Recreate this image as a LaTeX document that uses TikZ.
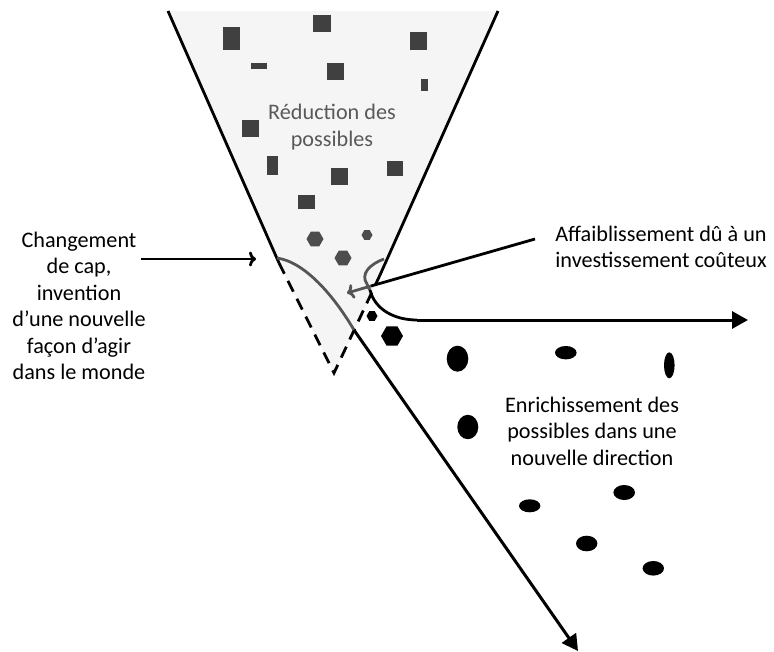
\documentclass[tikz,border=0pt]{standalone}
\usepackage{fontspec}
\setmainfont{Carlito}
\usetikzlibrary{arrows.meta}
\definecolor{funfill}{HTML}{F5F5F5}
\definecolor{sqgray}{HTML}{404040}
\definecolor{hexgray}{HTML}{4D4D4D}
\definecolor{curvegray}{HTML}{555555}
\definecolor{txtgray}{HTML}{595959}
\tikzset{
  edgeline/.style={line width=2.8pt, black},
  dashline/.style={line width=2.8pt, black, dash pattern=on 12pt off 8pt},
  graycurve/.style={line width=2.8pt, curvegray},
  bigarrow/.style={line width=3pt, black, -{Triangle[length=16pt,width=17pt]}},
  openarrow/.style={line width=2.8pt, black, -{To[length=7pt,width=15pt,line width=2.8pt]}},
  grayarrow/.style={line width=2.8pt, curvegray, -{To[length=7pt,width=15pt,line width=2.8pt]}},
  lbl/.style={inner sep=0pt, align=center, font=\fontsize{22.2}{26.5}\selectfont},
  sq/.style={fill=sqgray},
}
\begin{document}
\begin{tikzpicture}[x=1pt,y=-1pt]
\useasboundingbox (0,0) rectangle (774,651);
% funnel fill
\fill[funfill] (168,11) -- (498,11) -- (380,275) -- (334,373) -- (279,263) -- cycle;
% squares
\fill[sq] (223,27) rectangle (240,50);
\fill[sq] (313,15) rectangle (331,32);
\fill[sq] (410,32) rectangle (427,50);
\fill[sq] (251,63) rectangle (267,69);
\fill[sq] (327,63) rectangle (344,80);
\fill[sq] (421,79) rectangle (428,91);
\fill[sq] (242,120) rectangle (259,137);
\fill[sq] (267,156) rectangle (278,175);
\fill[sq] (331,168) rectangle (348,185);
\fill[sq] (387,161) rectangle (403,176);
\fill[sq] (298,195) rectangle (315,209);
% gray hexagons
\fill[hexgray] (315,239) +(0:8.5pt) -- +(60:8.5pt) -- +(120:8.5pt) -- +(180:8.5pt) -- +(240:8.5pt) -- +(300:8.5pt) -- cycle;
\fill[hexgray] (343,258) +(0:8.5pt) -- +(60:8.5pt) -- +(120:8.5pt) -- +(180:8.5pt) -- +(240:8.5pt) -- +(300:8.5pt) -- cycle;
\fill[hexgray] (367,235) +(0:5.5pt) -- +(60:5.5pt) -- +(120:5.5pt) -- +(180:5.5pt) -- +(240:5.5pt) -- +(300:5.5pt) -- cycle;
% black hexagons
\fill[black] (372,316) +(0:5.5pt) -- +(60:5.5pt) -- +(120:5.5pt) -- +(180:5.5pt) -- +(240:5.5pt) -- +(300:5.5pt) -- cycle;
\fill[black] (392,336) +(0:11pt) -- +(60:11pt) -- +(120:11pt) -- +(180:11pt) -- +(240:11pt) -- +(300:11pt) -- cycle;
% ellipses
\fill (457.5,358.7) ellipse [x radius=10.8pt, y radius=13pt];
\fill (565.8,352.7) ellipse [x radius=10.8pt, y radius=6.7pt];
\fill (669.3,365.3) ellipse [x radius=5.3pt, y radius=13pt];
\fill (467.8,427) ellipse [x radius=10.5pt, y radius=12.2pt];
\fill (529.7,505.8) ellipse [x radius=10.7pt, y radius=6.5pt];
\fill (624.2,492.5) ellipse [x radius=10.8pt, y radius=7.5pt];
\fill (586.7,543.5) ellipse [x radius=10.7pt, y radius=7.8pt];
\fill (653.3,568.3) ellipse [x radius=10.7pt, y radius=7.3pt];
% key points
\coordinate (tl) at (168,11);
\coordinate (tr) at (498,11);
\coordinate (lb) at (279,263);
\coordinate (rb) at (380,275);
\coordinate (apex) at (334,373);
\coordinate (cross) at (354,330);
\coordinate (diagend) at (578,651);
\coordinate (hstart) at (417,320);
\coordinate (hend) at (748,320);
% funnel edges
\draw[edgeline] (tl) -- (lb);
\draw[edgeline] (tr) -- (rb);
\draw[dashline] (lb) -- (apex) -- (rb);
% left sigmoid curve
\draw[graycurve] (277,258) .. controls (305,262) and (334,296) .. (cross);
\draw[bigarrow] (cross) -- (diagend);
% right loop
\draw[graycurve] (384,259) .. controls (370,264) and (360,274) .. (367,284) .. controls (368,287) and (369,289) .. (370,290);
\draw[edgeline] (370,290) .. controls (375,310) and (395,320) .. (hstart);
\draw[bigarrow] (hstart) -- (hend);
% labels
\node[lbl, text=txtgray] (red) at (332,127) {Réduction des\\possibles};
\node[lbl] (chg) at (79,306) {Changement\\de cap,\\invention\\d’une nouvelle\\façon d’agir\\dans le monde};
\node[lbl] (aff) at (661,247) {Affaiblissement dû à un\\investissement coûteux};
\node[lbl] (enr) at (592,431) {Enrichissement des\\possibles dans une\\nouvelle direction};
% annotation arrows
\coordinate (la) at (141,259);
\coordinate (lt) at (256,259);
\draw[openarrow] (la) -- (lt);
\coordinate (pa) at (535,239);
\coordinate (pm) at (371,286);
\coordinate (pt) at (347,293);
\draw[edgeline] (pa) -- (pm);
\draw[grayarrow] (pm) -- (pt);
\end{tikzpicture}
\end{document}
